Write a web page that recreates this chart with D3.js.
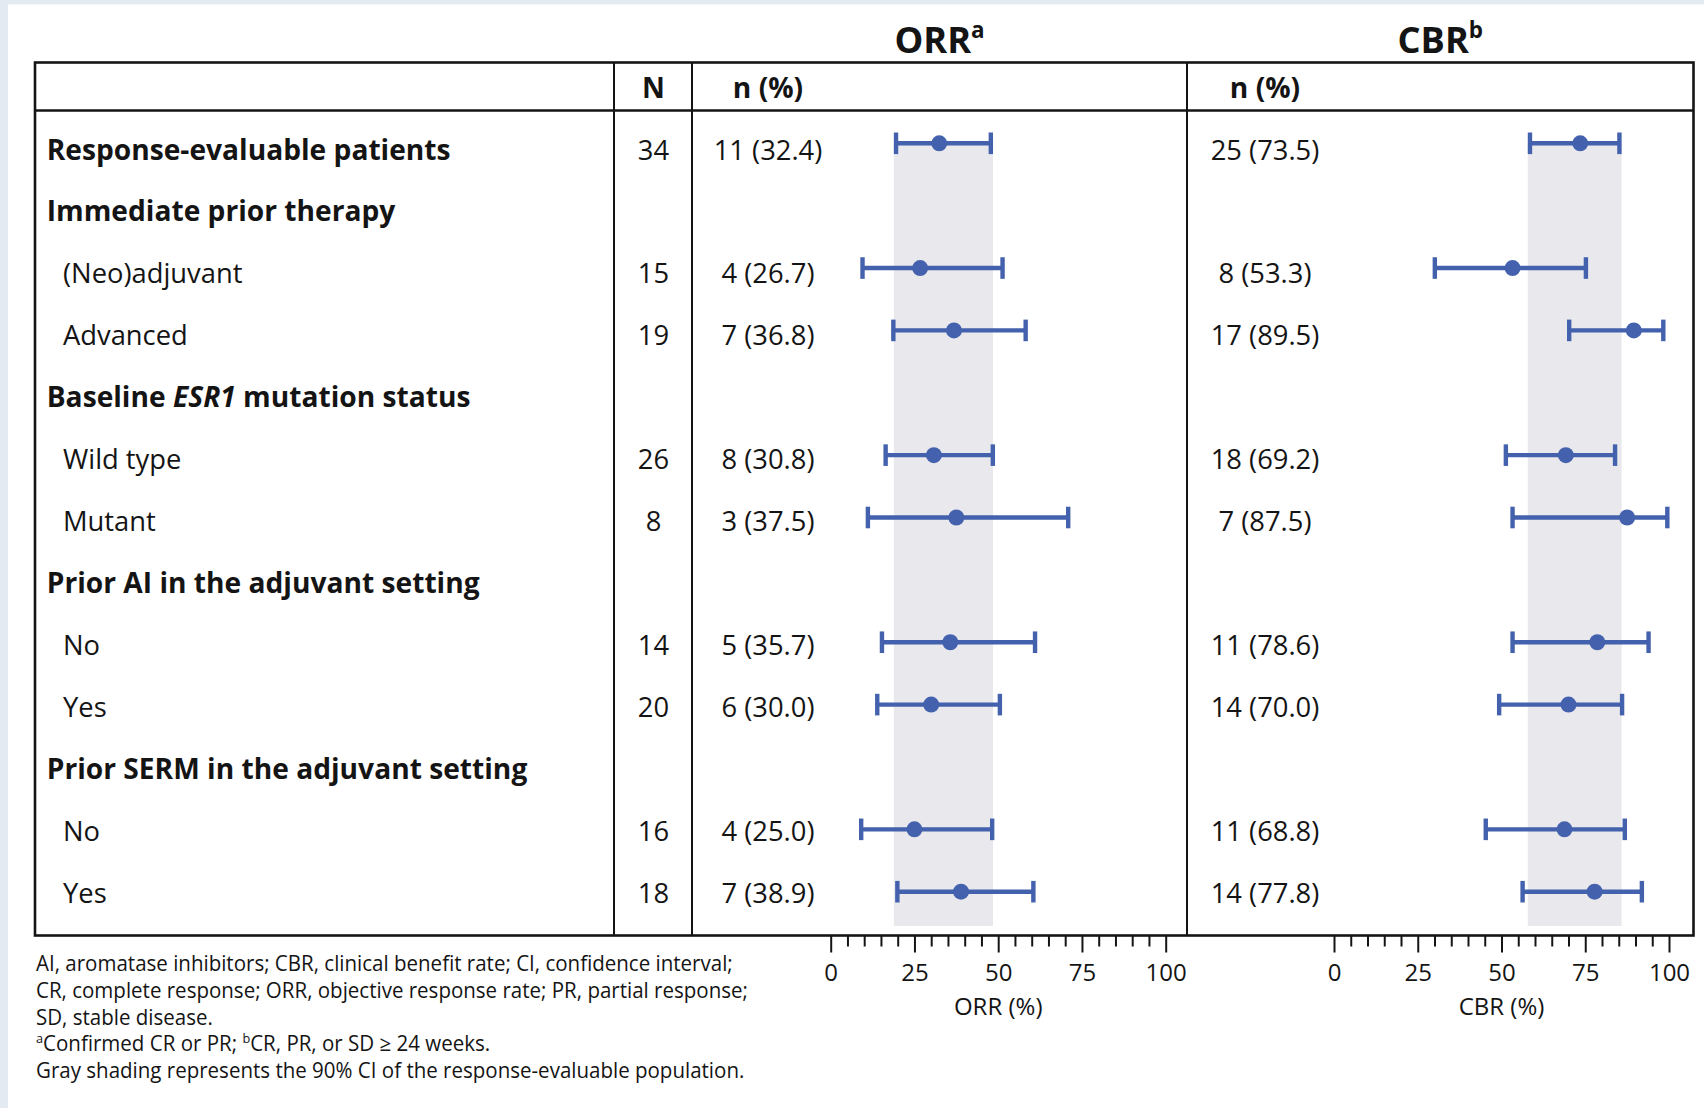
<!DOCTYPE html>
<html>
<head>
<meta charset="utf-8">
<script src="https://cdn.jsdelivr.net/npm/d3@7"></script>
<style>
  html, body { margin: 0; padding: 0; background: #fff; }
  svg { display: block; }
</style>
</head>
<body>
<svg id="chart" width="1704" height="1108"></svg>
<script>
// ---- Subgroup rows (level 0 = bold heading, level 1 = indented subgroup) ----
const rowLabels = [
  "Response-evaluable patients",
  "Immediate prior therapy",
  "(Neo)adjuvant",
  "Advanced",
  "Baseline ESR1 mutation status",
  "Wild type",
  "Mutant",
  "Prior AI in the adjuvant setting",
  "No",
  "Yes",
  "Prior SERM in the adjuvant setting",
  "No",
  "Yes"
];
const rowLevels = [0, 0, 1, 1, 0, 1, 1, 0, 1, 1, 0, 1, 1];
const nTotal    = [34, null, 15, 19, null, 26, 8, null, 14, 20, null, 16, 18];

// ---- Objective response rate: responders, %, 90% CI ----
const orrN    = [11, null, 4, 7, null, 8, 3, null, 5, 6, null, 4, 7];
const orrPct  = [32.4, null, 26.7, 36.8, null, 30.8, 37.5, null, 35.7, 30.0, null, 25.0, 38.9];
const orrLow  = [19.5, null, 9.5, 18.7, null, 16.4, 11.1, null, 15.3, 13.9, null, 9.1, 19.9];
const orrHigh = [47.8, null, 51.3, 58.2, null, 48.4, 70.9, null, 61.0, 50.5, null, 48.2, 60.5];

// ---- Clinical benefit rate: responders, %, 90% CI ----
const cbrN    = [25, null, 8, 17, null, 18, 7, null, 11, 14, null, 11, 14];
const cbrPct  = [73.5, null, 53.3, 89.5, null, 69.2, 87.5, null, 78.6, 70.0, null, 68.8, 77.8];
const cbrLow  = [58.5, null, 30.1, 70.2, null, 51.3, 53.3, null, 53.3, 49.3, null, 45.3, 56.3];
const cbrHigh = [85.2, null, 75.2, 98.3, null, 83.9, 99.5, null, 93.9, 86.0, null, 86.8, 91.9];

// ---- Axis ticks ----
const majorTicks = [0, 25, 50, 75, 100];
const minorTicks = [5, 10, 15, 20, 30, 35, 40, 45, 55, 60, 65, 70, 80, 85, 90, 95];

// ---- Footnotes ----
const footnotes = [
  [{ t: "AI, aromatase inhibitors; CBR, clinical benefit rate; CI, confidence interval;" }],
  [{ t: "CR, complete response; ORR, objective response rate; PR, partial response;" }],
  [{ t: "SD, stable disease." }],
  [{ t: "a", sup: true }, { t: "Confirmed CR or PR; " }, { t: "b", sup: true }, { t: "CR, PR, or SD \u2265 24 weeks." }],
  [{ t: "Gray shading represents the 90% CI of the response-evaluable population." }]
];

// ---------------------------------------------------------------------------
const W = 1704, H = 1108;
const FONT = "'Open Sans','Noto Sans','DejaVu Sans',sans-serif";
const INK = "#141414";
const BLUE = "#4361ad";
const SHADE = "#e8e8ed";
const FRAME = "#e3eaf2";

const svg = d3.select("#chart");

// width calibration so the typeface runs as narrow as the semi-condensed original
function measure(str, size, weight) {
  const t = svg.append("text").attr("font-family", FONT).attr("font-size", size)
    .attr("font-weight", weight).text(str);
  const w = t.node().getComputedTextLength();
  t.remove();
  return w;
}
const kBold = 404 / measure("Response-evaluable patients", 28, 700);
const kReg  = 697 / measure(footnotes[0][0].t, 21, 400);

function label(parent, x, y, parts, opt = {}) {
  const size = opt.size || 28, weight = opt.weight || 400;
  const k = opt.k == null ? 1 : opt.k;
  const g = parent.append("g").attr("transform", `translate(${x},${y}) scale(${k},1)`);
  const t = g.append("text")
    .attr("font-family", FONT).attr("font-size", size).attr("font-weight", weight)
    .attr("text-anchor", opt.anchor || "start").attr("fill", INK);
  let shift = 0;
  (typeof parts === "string" ? [{ t: parts }] : parts).forEach(p => {
    const ts = t.append("tspan").text(p.t);
    if (p.italic) ts.attr("font-style", "italic");
    if (p.bold) ts.attr("font-weight", 700);
    if (p.sup) {
      const s = size * 0.4;
      ts.attr("font-size", size * 0.62).attr("dy", -s - shift);
      shift = -s;
    } else if (shift !== 0) {
      ts.attr("dy", -shift);
      shift = 0;
    }
  });
  return t;
}

// page frame
svg.append("rect").attr("width", W).attr("height", H).attr("fill", "#fff");
svg.append("rect").attr("width", W).attr("height", 4.5).attr("fill", FRAME);
svg.append("rect").attr("width", 8).attr("height", H).attr("fill", FRAME);

// table geometry
const tX0 = 35, tX1 = 1693.5, tTop = 62.5, tHead = 110.5, tBot = 935.5;
const colN0 = 614, colN1 = 692, colMid = 1187;
const nCenter = 653.5, orrTextX = 768, cbrTextX = 1265;

// scales
const xORR = d3.scaleLinear().domain([0, 100]).range([830.7, 1165.7]);
const xCBR = d3.scaleLinear().domain([0, 100]).range([1334, 1669]);
const rowIdx = d3.range(rowLabels.length);
const yText = d3.scaleLinear().domain([0, rowLabels.length - 1]).range([159.5, 902.5]);
const yMark = d3.scaleLinear().domain([0, rowLabels.length - 1]).range([143.3, 891.7]);

// gray shading: 90% CI of the response-evaluable population (row 0)
const capW = 4.4;
[[xORR, orrLow, orrHigh], [xCBR, cbrLow, cbrHigh]].forEach(([x, lo, hi]) => {
  svg.append("rect")
    .attr("x", x(lo[0]) - capW / 2)
    .attr("y", yMark(0))
    .attr("width", x(hi[0]) - x(lo[0]) + capW)
    .attr("height", 926 - yMark(0))
    .attr("fill", SHADE);
});

// table lines
const lines = svg.append("g").attr("stroke", INK).attr("fill", "none");
lines.append("rect").attr("x", tX0).attr("y", tTop).attr("width", tX1 - tX0)
  .attr("height", tBot - tTop).attr("stroke-width", 2.6);
lines.append("line").attr("x1", tX0).attr("x2", tX1).attr("y1", tHead).attr("y2", tHead)
  .attr("stroke-width", 2.6);
[colN0, colN1, colMid].forEach(cx => {
  lines.append("line").attr("x1", cx).attr("x2", cx).attr("y1", tTop).attr("y2", tBot)
    .attr("stroke-width", 2);
});

// column titles
label(svg, (colN1 + colMid) / 2, 52.7, [{ t: "ORR" }, { t: "a", sup: true }],
  { size: 36, weight: 700, anchor: "middle", k: kBold });
label(svg, (colMid + tX1) / 2, 52.7, [{ t: "CBR" }, { t: "b", sup: true }],
  { size: 36, weight: 700, anchor: "middle", k: kBold });

// header row
label(svg, nCenter, 97.5, "N", { weight: 700, anchor: "middle", k: kBold });
label(svg, orrTextX, 97.5, "n (%)", { weight: 700, anchor: "middle", k: kBold });
label(svg, cbrTextX, 97.5, "n (%)", { weight: 700, anchor: "middle", k: kBold });

// row labels and counts
rowIdx.forEach(i => {
  const y = yText(i);
  const bold = rowLevels[i] === 0;
  const parts = rowLabels[i].split(/(ESR1)/).filter(s => s.length)
    .map(s => s === "ESR1" ? { t: s, italic: true } : { t: s });
  label(svg, bold ? 46.7 : 63, y, parts,
    { weight: bold ? 700 : 400, k: bold ? kBold : kReg });
  if (nTotal[i] != null) {
    label(svg, nCenter, y, String(nTotal[i]), { anchor: "middle", k: kReg });
    label(svg, orrTextX, y, `${orrN[i]} (${orrPct[i].toFixed(1)})`, { anchor: "middle", k: kReg });
    label(svg, cbrTextX, y, `${cbrN[i]} (${cbrPct[i].toFixed(1)})`, { anchor: "middle", k: kReg });
  }
});

// estimates with 90% CI
function errorBars(x, pct, lo, hi) {
  const g = svg.append("g");
  const rows = rowIdx.filter(i => pct[i] != null);
  g.selectAll("line.ci").data(rows).join("line").attr("class", "ci")
    .attr("x1", i => x(lo[i])).attr("x2", i => x(hi[i]))
    .attr("y1", i => yMark(i)).attr("y2", i => yMark(i))
    .attr("stroke", BLUE).attr("stroke-width", 4.4);
  ["lo", "hi"].forEach(side => {
    g.selectAll(`line.cap-${side}`).data(rows).join("line").attr("class", `cap-${side}`)
      .attr("x1", i => x(side === "lo" ? lo[i] : hi[i]))
      .attr("x2", i => x(side === "lo" ? lo[i] : hi[i]))
      .attr("y1", i => yMark(i) - 10.8).attr("y2", i => yMark(i) + 10.8)
      .attr("stroke", BLUE).attr("stroke-width", capW);
  });
  g.selectAll("circle").data(rows).join("circle")
    .attr("cx", i => x(pct[i])).attr("cy", i => yMark(i)).attr("r", 8)
    .attr("fill", BLUE);
}
errorBars(xORR, orrPct, orrLow, orrHigh);
errorBars(xCBR, cbrPct, cbrLow, cbrHigh);

// axes hanging from the table's bottom edge
function drawAxis(x, title) {
  const major = svg.append("g").attr("transform", `translate(0,${tBot})`)
    .call(d3.axisBottom(x).tickValues(majorTicks).tickSize(17).tickPadding(11.5));
  const minor = svg.append("g").attr("transform", `translate(0,${tBot})`)
    .call(d3.axisBottom(x).tickValues(minorTicks).tickSize(11).tickFormat(""));
  [major, minor].forEach(a => {
    a.select(".domain").remove();
    a.selectAll(".tick line").attr("stroke", INK).attr("stroke-width", 2);
  });
  major.selectAll(".tick text").attr("font-family", FONT).attr("font-size", 24)
    .attr("fill", INK).attr("transform", `scale(${Math.min(1, kReg * 1.08)},1)`);
  const [r0, r1] = x.range();
  label(svg, (r0 + r1) / 2, 1015, title, { size: 24, anchor: "middle", k: Math.min(1, kReg * 1.08) });
}
drawAxis(xORR, "ORR (%)");
drawAxis(xCBR, "CBR (%)");

// footnotes
footnotes.forEach((parts, i) => {
  label(svg, 36, 971 + 26.8 * i, parts, { size: 21, k: kReg });
});
</script>
</body>
</html>
